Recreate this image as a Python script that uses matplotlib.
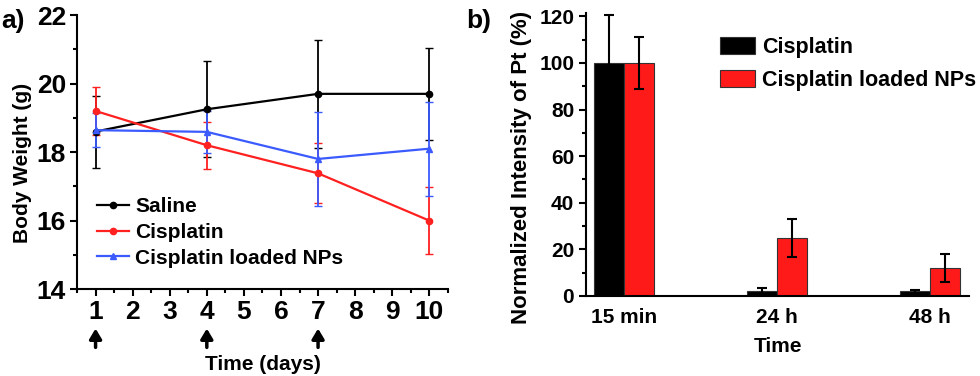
import numpy as np
import matplotlib.pyplot as plt
from matplotlib.ticker import MultipleLocator

plt.rcParams['font.family'] = ['Liberation Sans', 'DejaVu Sans']
plt.rcParams['font.weight'] = 'bold'

# panel a) body weight
days = [1, 4, 7, 10]
saline = [18.6, 19.25, 19.7, 19.7]
saline_err = [1.05, 1.4, 1.57, 1.35]
cis = [19.2, 18.2, 17.38, 16.0]
cis_err = [0.69, 0.68, 0.88, 0.97]
nps = [18.64, 18.59, 17.8, 18.1]
nps_err = [0.5, 0.62, 1.38, 1.37]
groups = ['Saline', 'Cisplatin', 'Cisplatin loaded NPs']
arrow_days = [1, 4, 7]

# panel b) Pt intensity
times = ['15 min', '24 h', '48 h']
pt_cis = [100, 2, 2]
pt_cis_err = [20.5, 1.3, 0.6]
pt_nps = [100, 25, 12]
pt_nps_err = [11, 8.2, 6]

fig = plt.figure(figsize=(9.8, 3.76), dpi=100)

ax1 = fig.add_axes([0.0786, 0.231, 0.3784, 0.729])
handles = []
for y, e, c, m in [(saline, saline_err, 'black', 'o'),
                   (cis, cis_err, '#ff2020', 'o'),
                   (nps, nps_err, '#3b5bff', '^')]:
    cont = ax1.errorbar(days, y, yerr=e, color=c, marker=m, ms=4.5, lw=1.6,
                        capsize=3, elinewidth=1.3)
    handles.append(cont.lines[0])
ax1.set_xlim(0.5, 10.5)
ax1.set_ylim(14, 22)
ax1.set_xticks(range(1, 11))
ax1.set_yticks([14, 16, 18, 20, 22])
ax1.xaxis.set_minor_locator(MultipleLocator(0.5))
ax1.yaxis.set_minor_locator(MultipleLocator(1))
ax1.tick_params(which='major', length=5, width=1.5, labelsize=19, pad=3)
ax1.tick_params(which='minor', length=3, width=1.5)
for s in ['top', 'right']:
    ax1.spines[s].set_visible(False)
for s in ['left', 'bottom']:
    ax1.spines[s].set_linewidth(1.5)
ax1.set_ylabel('Body Weight (g)', fontsize=15, fontweight='bold')
ax1.yaxis.set_label_coords(-0.122, 0.46)
ax1.set_xlabel('Time (days)', fontsize=15, fontweight='bold', labelpad=22)
ax1.legend(handles, groups, loc='upper left', bbox_to_anchor=(0.055, 0.335),
           frameon=False, fontsize=15, handlelength=1.5, handletextpad=0.3,
           labelspacing=0.32, borderaxespad=0, borderpad=0)
for d in arrow_days:
    ax1.annotate('', xy=(d, 12.85), xytext=(d, 12.3), xycoords='data',
                 annotation_clip=False,
                 arrowprops=dict(arrowstyle='-|>,head_length=0.5,head_width=0.3',
                                 color='black', lw=2.5, mutation_scale=12,
                                 shrinkA=0, shrinkB=0))
fig.text(0.001, 0.944, 'a)', fontsize=19, fontweight='bold', va='center')

ax2 = fig.add_axes([0.598, 0.2128, 0.391, 0.753])
x = np.arange(len(times))
w = 0.196
ax2.bar(x - w / 2, pt_cis, w, color='black', edgecolor='#333333', lw=0.8,
        label='Cisplatin')
ax2.bar(x + w / 2, pt_nps, w, color='#ff1a1a', edgecolor='#333333', lw=0.8,
        label='Cisplatin loaded NPs')
ax2.errorbar(x - w / 2, pt_cis, yerr=pt_cis_err, fmt='none', ecolor='black',
             elinewidth=1.5, capsize=3.5, capthick=1.5)
ax2.errorbar(x + w / 2, pt_nps, yerr=pt_nps_err, fmt='none', ecolor='black',
             elinewidth=1.5, capsize=3.5, capthick=1.5)
ax2.set_xlim(-0.245, 2.255)
ax2.set_ylim(0, 121.5)
ax2.set_xticks(x)
ax2.set_xticklabels(times)
ax2.set_yticks(range(0, 121, 20))
ax2.yaxis.set_minor_locator(MultipleLocator(10))
ax2.tick_params(axis='y', which='major', length=5, width=1.5, labelsize=15)
ax2.tick_params(axis='y', which='minor', length=3, width=1.5)
ax2.tick_params(axis='x', length=0, labelsize=15, pad=9)
for s in ['top', 'right']:
    ax2.spines[s].set_visible(False)
for s in ['left', 'bottom']:
    ax2.spines[s].set_linewidth(1.5)
ax2.set_ylabel('Normalized Intensity of Pt (%)', fontsize=16, fontweight='bold')
ax2.yaxis.set_label_coords(-0.142, 0.455)
ax2.set_xlabel('Time', fontsize=15, fontweight='bold', labelpad=7)
ax2.legend(loc='upper left', bbox_to_anchor=(0.35, 0.914), frameon=False,
           fontsize=15.5, handlelength=1.6, handleheight=0.8, handletextpad=0.35,
           labelspacing=0.55, borderaxespad=0, borderpad=0)
fig.text(0.476, 0.944, 'b)', fontsize=19, fontweight='bold', va='center')

fig.savefig('out.png', dpi=100)
